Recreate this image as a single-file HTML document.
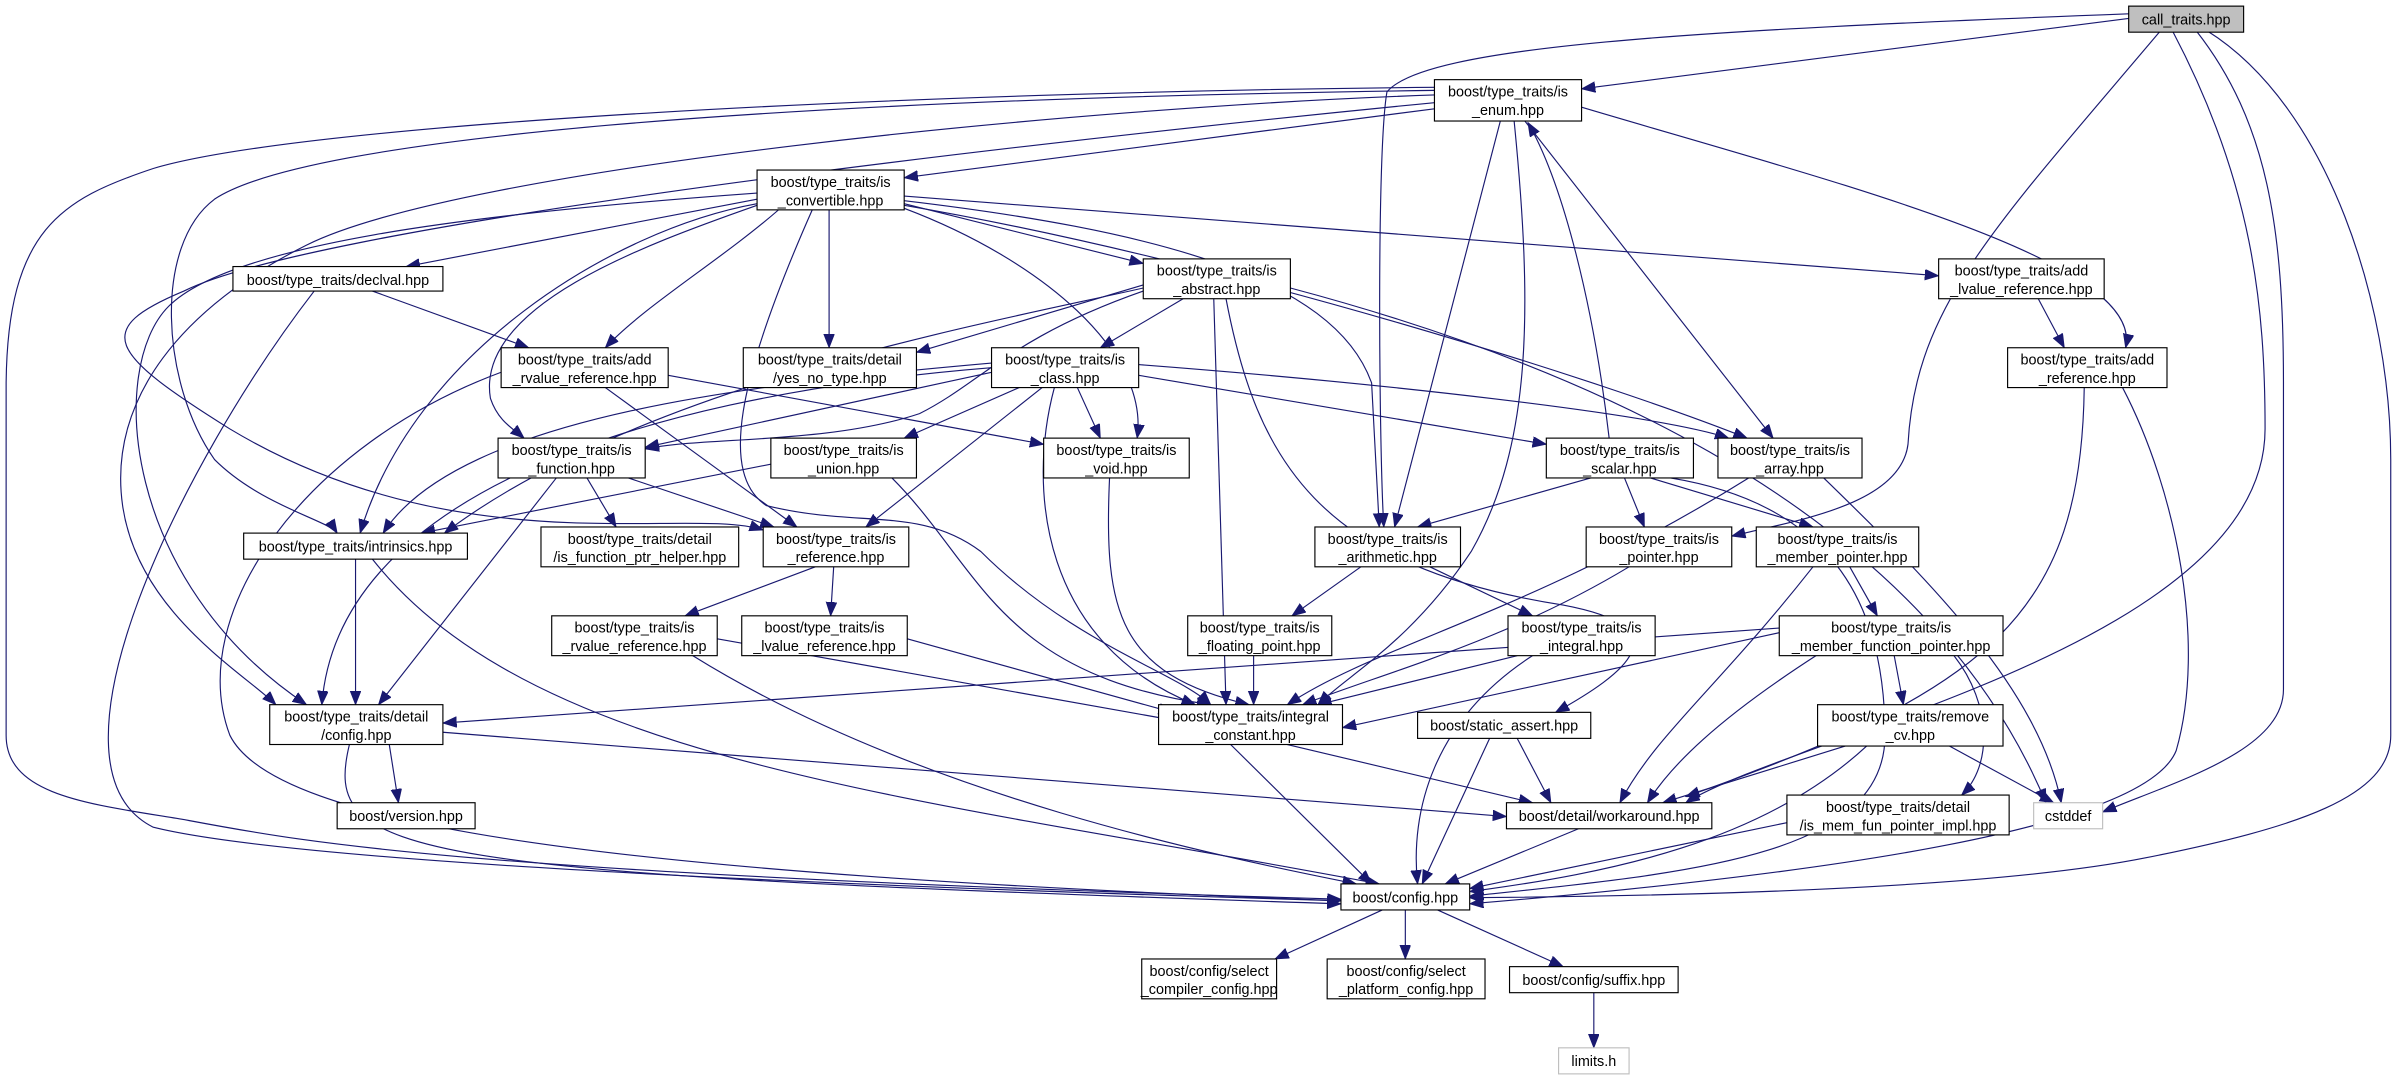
<!DOCTYPE html>
<html><head><meta charset="utf-8"><style>
html,body{margin:0;padding:0;background:#fff;}
svg{display:block}
text{font-family:"Liberation Sans","DejaVu Sans",sans-serif;font-size:9.4px;text-anchor:middle;fill:#000}
.n{fill:#fff;stroke:#000;stroke-width:0.75}
.g{fill:#fff;stroke:#bfbfbf;stroke-width:0.75}
.e{fill:none;stroke:#191970;stroke-width:0.75;marker-end:url(#a)}
</style></head><body>
<svg width="2403" height="1080" viewBox="0 0 1568 705" preserveAspectRatio="none" xmlns="http://www.w3.org/2000/svg">
<defs><marker id="a" markerUnits="userSpaceOnUse" markerWidth="10" markerHeight="8" refX="9" refY="3.5" orient="auto"><path d="M0,0 L9,3.5 L0,7 z" fill="#191970" stroke="#191970" stroke-width="0.5"/></marker></defs>
<g>
<path class="e" d="M1389,12 L1032,58"/>
<path class="e" d="M1389,9 C1100,20 930,30 905,60 C898,100 900,300 903,344"/>
<path class="e" d="M1409,21 C1300,150 1250,200 1245,290 C1240,330 1170,340 1130,350"/>
<path class="e" d="M1418,21 C1470,120 1478,200 1478,280 C1478,420 1170,480 1100,524"/>
<path class="e" d="M1433,20 C1480,80 1490,150 1490,250 L1490,450 C1490,490 1420,510 1372,530"/>
<path class="e" d="M1440,20 C1520,70 1560,200 1560,300 L1560,480 C1560,520 1500,540 1400,560 C1300,580 1100,585 959,586"/>
<path class="e" d="M936,71 L590,116"/>
<path class="e" d="M936,57 C600,60 200,80 100,110 C40,130 5,150 4,250 L4,480 C4,520 60,525 120,535 C200,550 300,570 875,587"/>
<path class="e" d="M936,59 C500,65 200,90 140,130 C100,160 105,250 140,300 C170,330 215,340 220,348"/>
<path class="e" d="M936,62 C700,70 300,110 200,160 C120,200 70,260 80,330 C90,400 160,440 180,460"/>
<path class="e" d="M936,67 C600,100 200,150 120,190 C60,215 70,230 150,280 C300,370 450,330 498,346"/>
<path class="e" d="M979,79 L910,344"/>
<path class="e" d="M988,79 C1000,200 1000,290 960,360 C920,420 880,440 860,460"/>
<path class="e" d="M995,79 L1157,286"/>
<path class="e" d="M1032,70 C1200,120 1400,170 1387,227"/>
<path class="e" d="M1050,286 C1040,200 1020,120 997,80"/>
<path class="e" d="M494,130 L265,174"/>
<path class="e" d="M508,137 C470,170 420,200 395,227"/>
<path class="e" d="M541,137 L541,227"/>
<path class="e" d="M590,133 L746,172"/>
<path class="e" d="M590,128 L1265,180"/>
<path class="e" d="M494,134 C420,160 310,200 320,260 C325,275 335,280 342,286"/>
<path class="e" d="M494,133 C400,150 270,230 235,348"/>
<path class="e" d="M494,126 C300,140 150,160 110,200 C70,240 80,380 200,460"/>
<path class="e" d="M530,137 C480,250 470,310 500,330 C560,345 600,330 640,360 C700,420 770,440 790,460"/>
<path class="e" d="M590,136 C680,170 750,230 742,286"/>
<path class="e" d="M590,131 C750,150 870,180 895,250 L900,344"/>
<path class="e" d="M590,134 C800,170 1050,250 1140,286"/>
<path class="e" d="M243,190 L345,227"/>
<path class="e" d="M205,190 C120,300 20,500 100,540 C200,565 600,580 875,588"/>
<path class="e" d="M395,253 L520,344"/>
<path class="e" d="M436,245 L681,290"/>
<path class="e" d="M327,243 C200,290 120,400 150,480 C180,540 400,570 875,588"/>
<path class="e" d="M746,186 L598,230"/>
<path class="e" d="M772,195 L718,227"/>
<path class="e" d="M746,190 C660,220 640,250 600,270 C540,290 460,285 421,293"/>
<path class="e" d="M746,188 C650,210 420,250 290,348"/>
<path class="e" d="M792,195 L800,460"/>
<path class="e" d="M800,195 C820,300 860,370 1020,395 C1100,410 1060,440 1015,465"/>
<path class="e" d="M842,188 C1000,230 1250,320 1335,524"/>
<path class="e" d="M647,237 C500,250 300,270 250,348"/>
<path class="e" d="M647,240 C400,260 220,330 210,460"/>
<path class="e" d="M647,243 L421,292"/>
<path class="e" d="M665,253 L590,286"/>
<path class="e" d="M703,253 L718,286"/>
<path class="e" d="M680,253 L565,344"/>
<path class="e" d="M688,253 C670,320 680,420 780,460"/>
<path class="e" d="M743,245 L1009,290"/>
<path class="e" d="M743,238 C900,250 1080,270 1128,286"/>
<path class="e" d="M1330,195 L1347,227"/>
<path class="e" d="M1360,253 C1358,400 1300,450 1100,520"/>
<path class="e" d="M1385,253 C1420,320 1440,420 1420,490 C1400,540 1200,570 959,590"/>
<path class="e" d="M383,312 L402,344"/>
<path class="e" d="M410,312 L505,344"/>
<path class="e" d="M363,312 L247,460"/>
<path class="e" d="M503,303 L275,348"/>
<path class="e" d="M582,312 C640,370 650,440 790,460"/>
<path class="e" d="M724,312 C720,400 730,440 815,460"/>
<path class="e" d="M1038,312 L925,344"/>
<path class="e" d="M1060,312 L1073,344"/>
<path class="e" d="M1077,312 L1183,344"/>
<path class="e" d="M1090,312 C1200,330 1230,400 1230,480 C1230,560 1100,570 959,585"/>
<path class="e" d="M1141,312 C1000,400 900,420 840,460"/>
<path class="e" d="M1190,312 C1260,380 1330,450 1345,524"/>
<path class="e" d="M232,365 L232,460"/>
<path class="e" d="M243,365 C350,500 600,520 900,577"/>
<path class="e" d="M532,370 L447,402"/>
<path class="e" d="M544,370 L542,402"/>
<path class="e" d="M888,370 L843,402"/>
<path class="e" d="M933,370 L1000,402"/>
<path class="e" d="M1063,370 C980,420 900,440 850,460"/>
<path class="e" d="M1207,370 L1225,402"/>
<path class="e" d="M1183,370 C1120,450 1080,480 1057,524"/>
<path class="e" d="M468,417 L765,470"/>
<path class="e" d="M452,428 C600,520 800,560 885,577"/>
<path class="e" d="M592,417 L765,465"/>
<path class="e" d="M818,428 L818,460"/>
<path class="e" d="M990,428 L860,460"/>
<path class="e" d="M1000,428 C935,470 920,530 925,577"/>
<path class="e" d="M1161,410 L289,472"/>
<path class="e" d="M1161,413 L876,475"/>
<path class="e" d="M1185,428 C1120,470 1090,500 1075,524"/>
<path class="e" d="M1236,428 L1242,460"/>
<path class="e" d="M1275,428 C1300,460 1300,500 1280,519"/>
<path class="e" d="M254,486 L260,524"/>
<path class="e" d="M289,478 L983,533"/>
<path class="e" d="M228,486 C210,560 260,570 875,590"/>
<path class="e" d="M840,486 L1000,524"/>
<path class="e" d="M803,486 L895,577"/>
<path class="e" d="M990,482 L1012,524"/>
<path class="e" d="M972,482 L928,577"/>
<path class="e" d="M1204,487 L1085,524"/>
<path class="e" d="M1218,487 C1150,550 1050,570 959,582"/>
<path class="e" d="M1272,487 L1340,524"/>
<path class="e" d="M1166,537 L959,580"/>
<path class="e" d="M1030,541 L943,577"/>
<path class="e" d="M902,594 L832,626"/>
<path class="e" d="M917,594 L917,626"/>
<path class="e" d="M938,594 L1020,631"/>
<path class="e" d="M1040,648 L1040,684"/>
</g>
<g>
<rect x="1389" y="4" width="75" height="17" fill="#bfbfbf" stroke="#000" stroke-width="0.75"/><text x="1426.5" y="16">call_traits.hpp</text>
<rect class="n" x="936" y="52" width="96" height="27"/><text x="984" y="63">boost/type_traits/is</text><text x="984" y="75">_enum.hpp</text>
<rect class="n" x="494" y="111" width="96" height="26"/><text x="542" y="122">boost/type_traits/is</text><text x="542" y="134">_convertible.hpp</text>
<rect class="n" x="152" y="174" width="137" height="16"/><text x="220.5" y="186">boost/type_traits/declval.hpp</text>
<rect class="n" x="327" y="227" width="109" height="26"/><text x="381.5" y="238">boost/type_traits/add</text><text x="381.5" y="250">_rvalue_reference.hpp</text>
<rect class="n" x="485" y="227" width="113" height="26"/><text x="541.5" y="238">boost/type_traits/detail</text><text x="541.5" y="250">/yes_no_type.hpp</text>
<rect class="n" x="647" y="227" width="96" height="26"/><text x="695" y="238">boost/type_traits/is</text><text x="695" y="250">_class.hpp</text>
<rect class="n" x="746" y="169" width="96" height="26"/><text x="794" y="180">boost/type_traits/is</text><text x="794" y="192">_abstract.hpp</text>
<rect class="n" x="1265" y="169" width="108" height="26"/><text x="1319" y="180">boost/type_traits/add</text><text x="1319" y="192">_lvalue_reference.hpp</text>
<rect class="n" x="1310" y="227" width="104" height="26"/><text x="1362" y="238">boost/type_traits/add</text><text x="1362" y="250">_reference.hpp</text>
<rect class="n" x="325" y="286" width="96" height="26"/><text x="373" y="297">boost/type_traits/is</text><text x="373" y="309">_function.hpp</text>
<rect class="n" x="503" y="286" width="95" height="26"/><text x="550.5" y="297">boost/type_traits/is</text><text x="550.5" y="309">_union.hpp</text>
<rect class="n" x="681" y="286" width="95" height="26"/><text x="728.5" y="297">boost/type_traits/is</text><text x="728.5" y="309">_void.hpp</text>
<rect class="n" x="1009" y="286" width="96" height="26"/><text x="1057" y="297">boost/type_traits/is</text><text x="1057" y="309">_scalar.hpp</text>
<rect class="n" x="1121" y="286" width="94" height="26"/><text x="1168" y="297">boost/type_traits/is</text><text x="1168" y="309">_array.hpp</text>
<rect class="n" x="159" y="348" width="146" height="17"/><text x="232" y="360">boost/type_traits/intrinsics.hpp</text>
<rect class="n" x="353" y="344" width="129" height="26"/><text x="417.5" y="355">boost/type_traits/detail</text><text x="417.5" y="367">/is_function_ptr_helper.hpp</text>
<rect class="n" x="498" y="344" width="95" height="26"/><text x="545.5" y="355">boost/type_traits/is</text><text x="545.5" y="367">_reference.hpp</text>
<rect class="n" x="858" y="344" width="95" height="26"/><text x="905.5" y="355">boost/type_traits/is</text><text x="905.5" y="367">_arithmetic.hpp</text>
<rect class="n" x="1035" y="344" width="95" height="26"/><text x="1082.5" y="355">boost/type_traits/is</text><text x="1082.5" y="367">_pointer.hpp</text>
<rect class="n" x="1146" y="344" width="106" height="26"/><text x="1199" y="355">boost/type_traits/is</text><text x="1199" y="367">_member_pointer.hpp</text>
<rect class="n" x="360" y="402" width="108" height="26"/><text x="414" y="413">boost/type_traits/is</text><text x="414" y="425">_rvalue_reference.hpp</text>
<rect class="n" x="484" y="402" width="108" height="26"/><text x="538" y="413">boost/type_traits/is</text><text x="538" y="425">_lvalue_reference.hpp</text>
<rect class="n" x="775" y="402" width="94" height="26"/><text x="822" y="413">boost/type_traits/is</text><text x="822" y="425">_floating_point.hpp</text>
<rect class="n" x="984" y="402" width="96" height="26"/><text x="1032" y="413">boost/type_traits/is</text><text x="1032" y="425">_integral.hpp</text>
<rect class="n" x="1161" y="402" width="146" height="26"/><text x="1234" y="413">boost/type_traits/is</text><text x="1234" y="425">_member_function_pointer.hpp</text>
<rect class="n" x="176" y="460" width="113" height="26"/><text x="232.5" y="471">boost/type_traits/detail</text><text x="232.5" y="483">/config.hpp</text>
<rect class="n" x="756" y="460" width="120" height="26"/><text x="816" y="471">boost/type_traits/integral</text><text x="816" y="483">_constant.hpp</text>
<rect class="n" x="925" y="465" width="113" height="17"/><text x="981.5" y="477">boost/static_assert.hpp</text>
<rect class="n" x="1186" y="460" width="121" height="27"/><text x="1246.5" y="471">boost/type_traits/remove</text><text x="1246.5" y="483">_cv.hpp</text>
<rect class="n" x="220" y="524" width="90" height="17"/><text x="265" y="536">boost/version.hpp</text>
<rect class="n" x="983" y="524" width="134" height="17"/><text x="1050" y="536">boost/detail/workaround.hpp</text>
<rect class="n" x="1166" y="519" width="145" height="26"/><text x="1238.5" y="530">boost/type_traits/detail</text><text x="1238.5" y="542">/is_mem_fun_pointer_impl.hpp</text>
<rect class="g" x="1327" y="524" width="45" height="17"/><text x="1349.5" y="536">cstddef</text>
<rect class="n" x="875" y="577" width="84" height="17"/><text x="917" y="589">boost/config.hpp</text>
<rect class="n" x="745" y="626" width="88" height="26"/><text x="789" y="637">boost/config/select</text><text x="789" y="649">_compiler_config.hpp</text>
<rect class="n" x="866" y="626" width="103" height="26"/><text x="917.5" y="637">boost/config/select</text><text x="917.5" y="649">_platform_config.hpp</text>
<rect class="n" x="985" y="631" width="110" height="17"/><text x="1040" y="643">boost/config/suffix.hpp</text>
<rect class="g" x="1017" y="684" width="46" height="17"/><text x="1040" y="696" fill="#000">limits.h</text>
</g>
</svg>
</body></html>
